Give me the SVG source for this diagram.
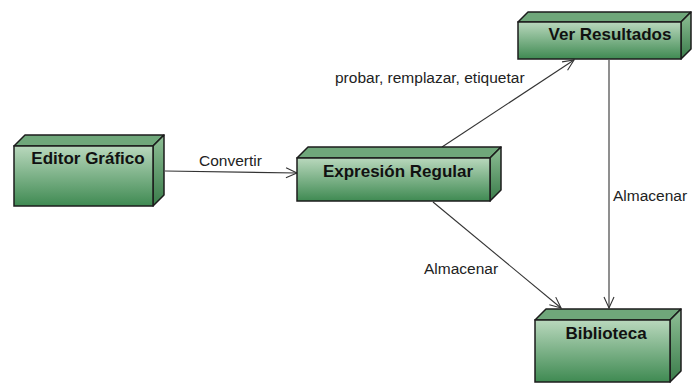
<svg xmlns="http://www.w3.org/2000/svg" width="693" height="384" viewBox="0 0 693 384">
<defs>
<linearGradient id="gFront" x1="0" y1="0" x2="0" y2="1">
<stop offset="0" stop-color="#b9d8bd"/>
<stop offset="1" stop-color="#3f8a52"/>
</linearGradient>
<linearGradient id="gSide" x1="0" y1="0" x2="0" y2="1">
<stop offset="0" stop-color="#8fbf96"/>
<stop offset="1" stop-color="#3a7c4a"/>
</linearGradient>
<marker id="arr" markerWidth="14" markerHeight="12" refX="12" refY="6" orient="auto" markerUnits="userSpaceOnUse">
<path d="M1,1 L12,6 L1,11" fill="none" stroke="#333" stroke-width="1.1"/>
</marker>
<style>
.front{fill:url(#gFront);stroke:#1c1c1c;stroke-width:1.5}
.top{fill:#6fa77a;stroke:#1c1c1c;stroke-width:1.5;stroke-linejoin:round}
.side{fill:url(#gSide);stroke:#1c1c1c;stroke-width:1.5;stroke-linejoin:round}
.title{font-family:"Liberation Sans",Arial,sans-serif;font-weight:bold;font-size:17px;fill:#111;text-anchor:middle}
.lbl{font-family:"Liberation Sans",Arial,sans-serif;font-size:15.5px;fill:#222}
.conn{stroke:#333;stroke-width:1.1;fill:none;marker-end:url(#arr)}
</style>
</defs>
<rect width="693" height="384" fill="#fff"/>
<g id="connectors">
<line class="conn" x1="165" y1="171" x2="297" y2="173"/>
<line class="conn" x1="442" y1="147" x2="574" y2="60"/>
<line class="conn" x1="433" y1="202" x2="561" y2="308"/>
<line class="conn" x1="609" y1="60" x2="609" y2="308"/>
<text class="lbl" x="199" y="166">Convertir</text>
<text class="lbl" x="335" y="83">probar, remplazar, etiquetar</text>
<text class="lbl" x="424" y="274">Almacenar</text>
<text class="lbl" x="613" y="201">Almacenar</text>
</g>
<g id="editor">
<polygon class="top" points="14,146 25,135 164,135 153,146"/>
<polygon class="side" points="153,146 164,135 164,195 153,206"/>
<rect class="front" x="14" y="146" width="139" height="60"/>
<text class="title" x="88" y="164">Editor Gráfico</text>
</g>
<g id="expresion">
<polygon class="top" points="297,158 308,147 501,147 490,158"/>
<polygon class="side" points="490,158 501,147 501,190 490,201"/>
<rect class="front" x="297" y="158" width="193" height="43"/>
<text class="title" x="398" y="177">Expresión Regular</text>
</g>
<g id="ver">
<polygon class="top" points="518,22 528,12 691,12 681,22"/>
<polygon class="side" points="681,22 691,12 691,49 681,59"/>
<rect class="front" x="518" y="22" width="163" height="37"/>
<text class="title" x="610" y="40">Ver Resultados</text>
</g>
<g id="biblioteca">
<polygon class="top" points="535,320 546,309 681,309 670,320"/>
<polygon class="side" points="670,320 681,309 681,371 670,382"/>
<rect class="front" x="535" y="320" width="135" height="62"/>
<text class="title" x="606" y="339">Biblioteca</text>
</g>
</svg>
